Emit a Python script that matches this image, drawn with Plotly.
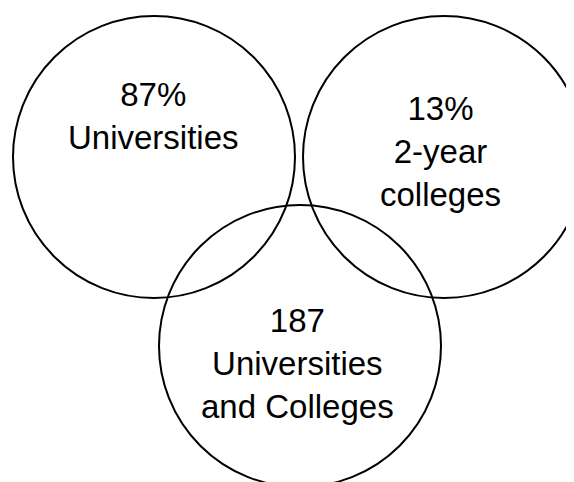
import plotly.graph_objects as go

# Data (labels of the three sets)
set_values = ["87%", "13%", "187"]
set_names = ["Universities", "2-year<br>colleges", "Universities<br>and Colleges"]

# Layout geometry (page-pixel data coordinates)
centers_x = [154, 444, 300]
centers_y = [157, 157, 346]
radius = 141
label_y = [116, 151, 363]
label_x = [153, 440, 297]

# The page body has an 8px margin; offset the axes so data coords == page pixels
OFF = 8

fig = go.Figure()
fig.add_trace(go.Scatter(x=[OFF, 574 + OFF], y=[OFF, 482 + OFF], mode="markers",
                         marker=dict(opacity=0), hoverinfo="skip", showlegend=False))

for cx, cy in zip(centers_x, centers_y):
    fig.add_shape(type="circle", xref="x", yref="y",
                  x0=cx - radius, x1=cx + radius, y0=cy - radius, y1=cy + radius,
                  line=dict(color="black", width=2), fillcolor="rgba(0,0,0,0)")

for v, n, x, y in zip(set_values, set_names, label_x, label_y):
    fig.add_annotation(x=x, y=y, xref="x", yref="y", text=f"{v}<br>{n}",
                       showarrow=False, xanchor="center", yanchor="middle",
                       font=dict(family="Liberation Sans, Arial", size=33, color="black"))

fig.update_layout(
    width=574, height=482,
    margin=dict(l=0, r=0, t=0, b=0),
    paper_bgcolor="white", plot_bgcolor="white",
    xaxis=dict(range=[OFF, 574 + OFF], visible=False, fixedrange=True),
    yaxis=dict(range=[482 + OFF, OFF], visible=False, fixedrange=True),
    showlegend=False,
)

fig.write_html("out.html")
